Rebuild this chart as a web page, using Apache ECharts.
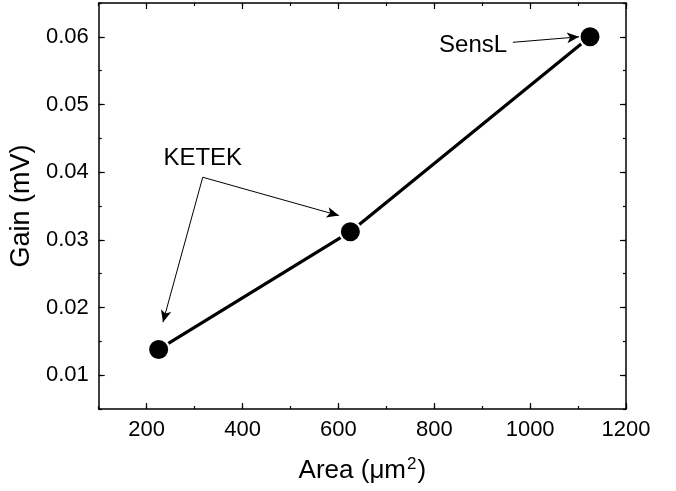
<!DOCTYPE html>
<html>
<head>
<meta charset="utf-8">
<script src="https://cdn.jsdelivr.net/npm/echarts@6/dist/echarts.min.js"></script>
<style>
  html, body { margin: 0; padding: 0; background: #fff; }
  #chart { width: 676px; height: 491px; }
</style>
</head>
<body>
<div id="chart"></div>
<script>
// Gain versus pixel area for three SiPM devices
const area = [225, 625, 1125];
const gain = [0.0138, 0.0312, 0.0600];

const xMajorTicks = [200, 400, 600, 800, 1000, 1200];
const yMajorTicks = [0.01, 0.02, 0.03, 0.04, 0.05, 0.06];

// Annotation labels (data coordinates) and their arrows
const labelNames = ['KETEK', 'SensL'];
const labelAt = [[317, 0.0420], [881, 0.0587]];
const arrowFrom = [[317, 0.03925], [317, 0.03925], [964, 0.05919]];
const arrowTo = [[601, 0.03359], [234, 0.01783], [1102, 0.0600]];

const FONT = 'Liberation Sans, Arial, sans-serif';
const X_RANGE = { min: 100, max: 1200 };
const Y_RANGE = { min: 0.005, max: 0.065 };

function minorAxis(position, range, interval, showLine) {
  return {
    type: 'value', position, ...range, interval,
    axisLine: { show: showLine, lineStyle: { color: '#000', width: 1.5 } },
    axisTick: { show: true, inside: true, length: 3, lineStyle: { color: '#000', width: 1.2 } },
    axisLabel: { show: false },
    splitLine: { show: false }
  };
}
function majorAxis(position, range, ticks, withLabels, extra) {
  return Object.assign({
    type: 'value', position, ...range,
    axisLine: { show: false },
    axisTick: { show: true, inside: true, length: 6, customValues: ticks, lineStyle: { color: '#000', width: 1.2 } },
    axisLabel: withLabels
      ? { show: true, customValues: ticks, fontSize: 22, color: '#000', fontFamily: FONT, margin: 10,
          formatter: v => String(v) }
      : { show: false },
    splitLine: { show: false }
  }, extra || {});
}

const chart = echarts.init(document.getElementById('chart'), null, { renderer: 'canvas' });
chart.setOption({
  backgroundColor: '#fff',
  animation: false,
  grid: { left: 97, right: 50, top: 3, bottom: 82, containLabel: false },
  xAxis: [
    minorAxis('bottom', X_RANGE, 100, true),
    majorAxis('bottom', X_RANGE, xMajorTicks, true, {
      name: 'Area ({mu|μm}{sup|2})',
      nameLocation: 'middle',
      nameGap: 47,
      nameTextStyle: {
        fontSize: 26, color: '#000', fontFamily: FONT,
        rich: {
          mu: { fontSize: 26, color: '#000', fontFamily: FONT },
          sup: { fontSize: 17, color: '#000', fontFamily: FONT, verticalAlign: 'top', padding: [0, 1, 13, 1] }
        }
      }
    }),
    minorAxis('top', X_RANGE, 100, true),
    majorAxis('top', X_RANGE, xMajorTicks, false)
  ],
  yAxis: [
    minorAxis('left', Y_RANGE, 0.005, true),
    majorAxis('left', Y_RANGE, yMajorTicks, true, {
      name: 'Gain (mV)',
      nameLocation: 'middle',
      nameGap: 62,
      nameTextStyle: { fontSize: 27, color: '#000', fontFamily: FONT }
    }),
    minorAxis('right', Y_RANGE, 0.005, true),
    majorAxis('right', Y_RANGE, yMajorTicks, false)
  ],
  series: [{
    type: 'line',
    xAxisIndex: 1,
    yAxisIndex: 1,
    data: area.map((a, i) => [a, gain[i]]),
    symbol: 'circle',
    symbolSize: 21,
    itemStyle: { color: '#000', borderColor: '#fff', borderWidth: 2 },
    lineStyle: { color: '#000', width: 3.2 },
    emphasis: { disabled: true },
    z: 3,
    markLine: {
      silent: true,
      symbol: ['none', 'arrow'],
      symbolSize: [8, 12],
      lineStyle: { color: '#000', width: 1, type: 'solid' },
      label: { show: false },
      emphasis: { disabled: true },
      data: arrowFrom.map((f, i) => [{ coord: f }, { coord: arrowTo[i] }])
    },
    markPoint: {
      silent: true,
      symbol: 'circle',
      symbolSize: 0,
      label: { show: true, position: 'inside', formatter: '{b}', fontSize: 24, color: '#000', fontFamily: FONT },
      emphasis: { disabled: true },
      data: labelNames.map((n, i) => ({ name: n, coord: labelAt[i] }))
    }
  }]
});
</script>
</body>
</html>
